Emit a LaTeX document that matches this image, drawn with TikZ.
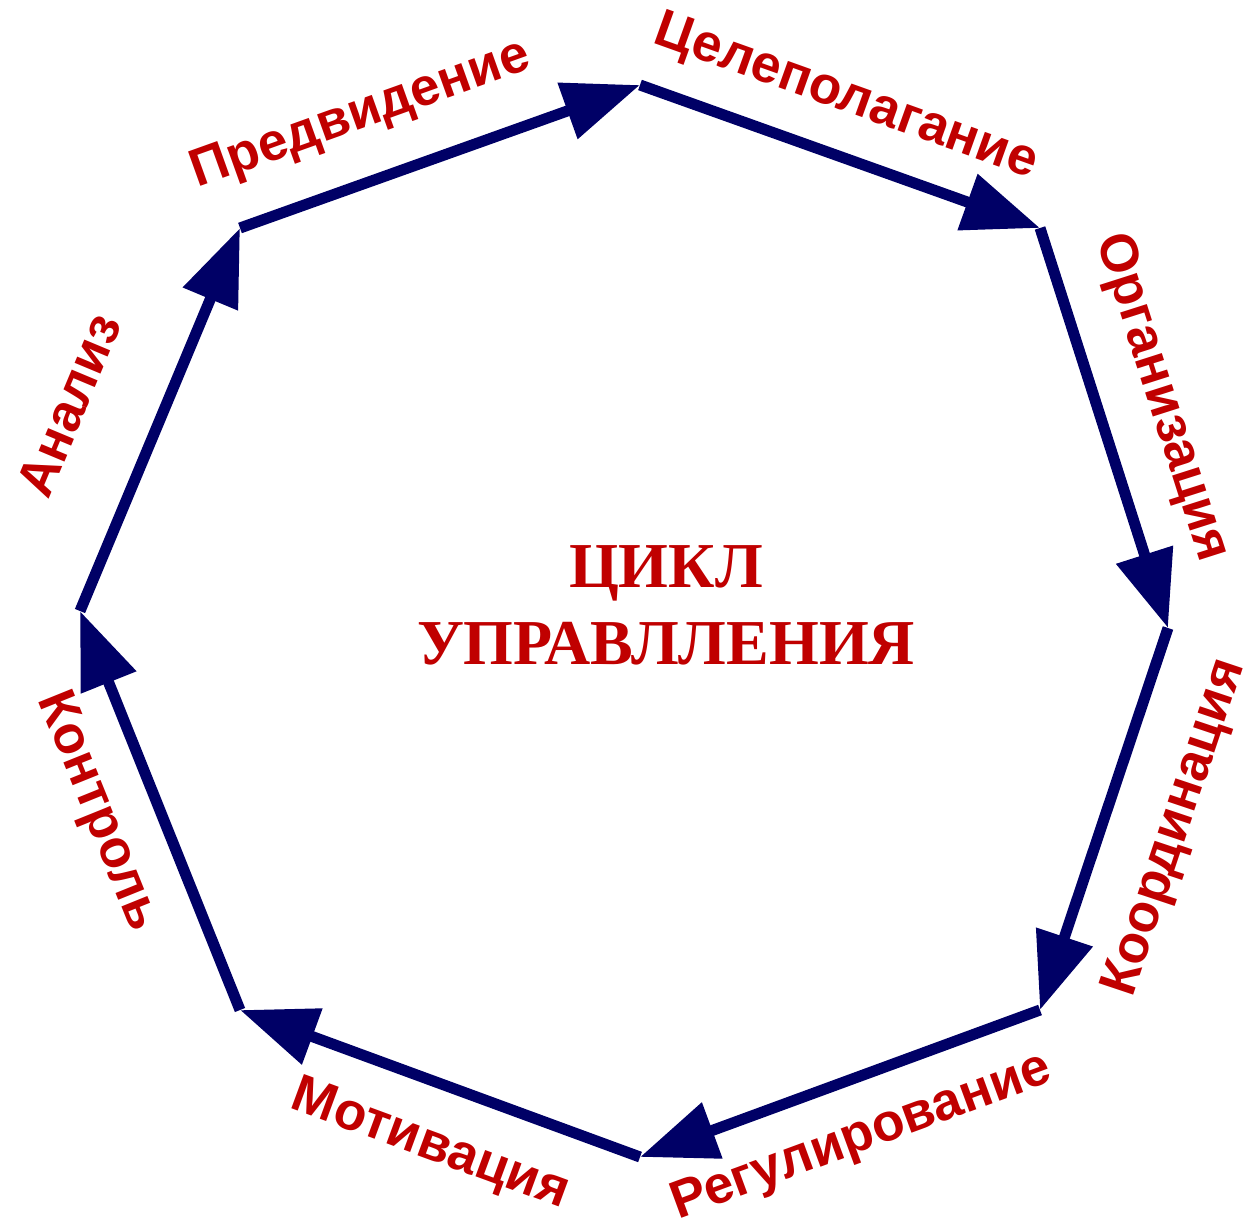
\documentclass[tikz,border=0pt]{standalone}
\usepackage{fontspec}
\setmainfont{Liberation Sans}
\newfontfamily\serifbf{Liberation Serif}
\usetikzlibrary{arrows.meta}
\definecolor{navy}{RGB}{0,0,102}
\definecolor{lblred}{RGB}{192,0,0}
\tikzset{
  edgearrow/.style={draw=navy, line width=11pt, line cap=butt,
    -{Triangle[length=77pt,width=57pt]}, fill=navy},
  steplabel/.style={text=lblred, font=\fontsize{53}{63}\selectfont\bfseries, inner sep=0pt},
  titletext/.style={text=lblred, font=\serifbf\fontsize{64}{77}\selectfont\bfseries, align=center, inner sep=0pt}
}
\begin{document}
\begin{tikzpicture}[x=1pt,y=-1pt]
\useasboundingbox (0,0) rectangle (1249,1225);
\coordinate (ul) at (240,228);
\coordinate (t) at (640,85);
\coordinate (ur) at (1040,228);
\coordinate (r) at (1168,628);
\coordinate (lr) at (1040,1010);
\coordinate (b) at (640,1157);
\coordinate (ll) at (240,1010);
\coordinate (l) at (80,611);

\draw[edgearrow] (ul) -- (t);
\draw[edgearrow] (t) -- (ur);
\draw[edgearrow] (ur) -- (r);
\draw[edgearrow] (r) -- (lr);
\draw[edgearrow] (lr) -- (b);
\draw[edgearrow] (b) -- (ll);
\draw[edgearrow] (ll) -- (l);
\draw[edgearrow] (l) -- (ul);

\node[steplabel, rotate=19.7] (lab1) at (361,116) {Предвидение};
\node[steplabel, rotate=-19.7] (lab2) at (846,98) {Целеполагание};
\node[steplabel, rotate=-72.3] (lab3) at (1161,398) {Организация};
\node[steplabel, rotate=71.5] (lab4) at (1176,828) {Координация};
\node[steplabel, rotate=20.2] (lab5) at (862,1138) {Регулирование};
\node[steplabel, rotate=-20.2] (lab6) at (430,1146) {Мотивация};
\node[steplabel, rotate=-68] (lab7) at (97,812) {Контроль};
\node[steplabel, rotate=67.3] (lab8) at (69,405) {Анализ};

\node[titletext] (title) at (666,605) {ЦИКЛ\\УПРАВЛЛЕНИЯ};
\end{tikzpicture}
\end{document}
